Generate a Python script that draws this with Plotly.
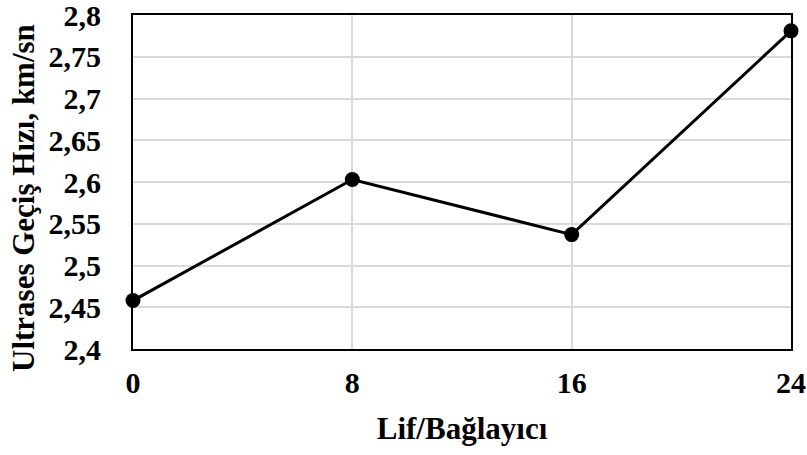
import plotly.graph_objects as go

x_vals = [0, 8, 16, 24]
y_vals = [2.458, 2.603, 2.537, 2.781]
y_tickvals = [2.4, 2.45, 2.5, 2.55, 2.6, 2.65, 2.7, 2.75, 2.8]
y_ticktext = ["2,4", "2,45", "2,5", "2,55", "2,6", "2,65", "2,7", "2,75", "2,8"]
x_ticktext = ["0", "8", "16", "24"]
x_title = "Lif/Bağlayıcı"
y_title = "Ultrases Geçiş Hızı, km/sn"

font = "Liberation Serif"
W, H = 807, 455
ML, MR, MT, MB = 133, 16, 15, 106
pw, ph = W - ML - MR, H - MT - MB

fig = go.Figure()
fig.add_trace(go.Scatter(
    x=x_vals, y=y_vals, mode="lines+markers",
    line=dict(color="black", width=3),
    marker=dict(color="black", size=15),
    cliponaxis=False, showlegend=False,
))

fig.update_layout(
    width=W, height=H,
    margin=dict(l=ML, r=MR, t=MT, b=MB),
    plot_bgcolor="white", paper_bgcolor="white",
    font=dict(family=font, color="black"),
    xaxis=dict(
        range=[0, 24], tickvals=x_vals, ticktext=x_ticktext,
        showgrid=True, gridcolor="#d9d9d9", gridwidth=2,
        showline=True, linecolor="black", linewidth=2, mirror=True,
        ticks="", zeroline=False, automargin=False,
        ticklabelstandoff=6, ticklabeloverflow="allow",
        tickfont=dict(family=font, size=30, color="black", weight="bold"),
        title=dict(text="<b>" + x_title + "</b>", font=dict(family=font, size=31, color="black"), standoff=19),
    ),
    yaxis=dict(
        range=[2.4, 2.8], tickvals=y_tickvals, ticktext=y_ticktext,
        showgrid=True, gridcolor="#d9d9d9", gridwidth=2,
        showline=True, linecolor="black", linewidth=2, mirror=True,
        ticks="", zeroline=False, automargin=False,
        ticklabelstandoff=24, ticklabeloverflow="allow",
        tickfont=dict(family=font, size=30, color="black", weight="bold"),
    ),
    annotations=[dict(
        text="<b>" + y_title + "</b>", textangle=-90,
        xref="paper", yref="paper",
        x=(24 - ML) / pw, y=(H - MB - 198) / ph,
        xanchor="center", yanchor="middle", showarrow=False,
        font=dict(family=font, size=31, color="black"),
    )],
)

fig.write_html("out.html", config={"displayModeBar": False},
               post_script="document.body.style.margin='0';")
